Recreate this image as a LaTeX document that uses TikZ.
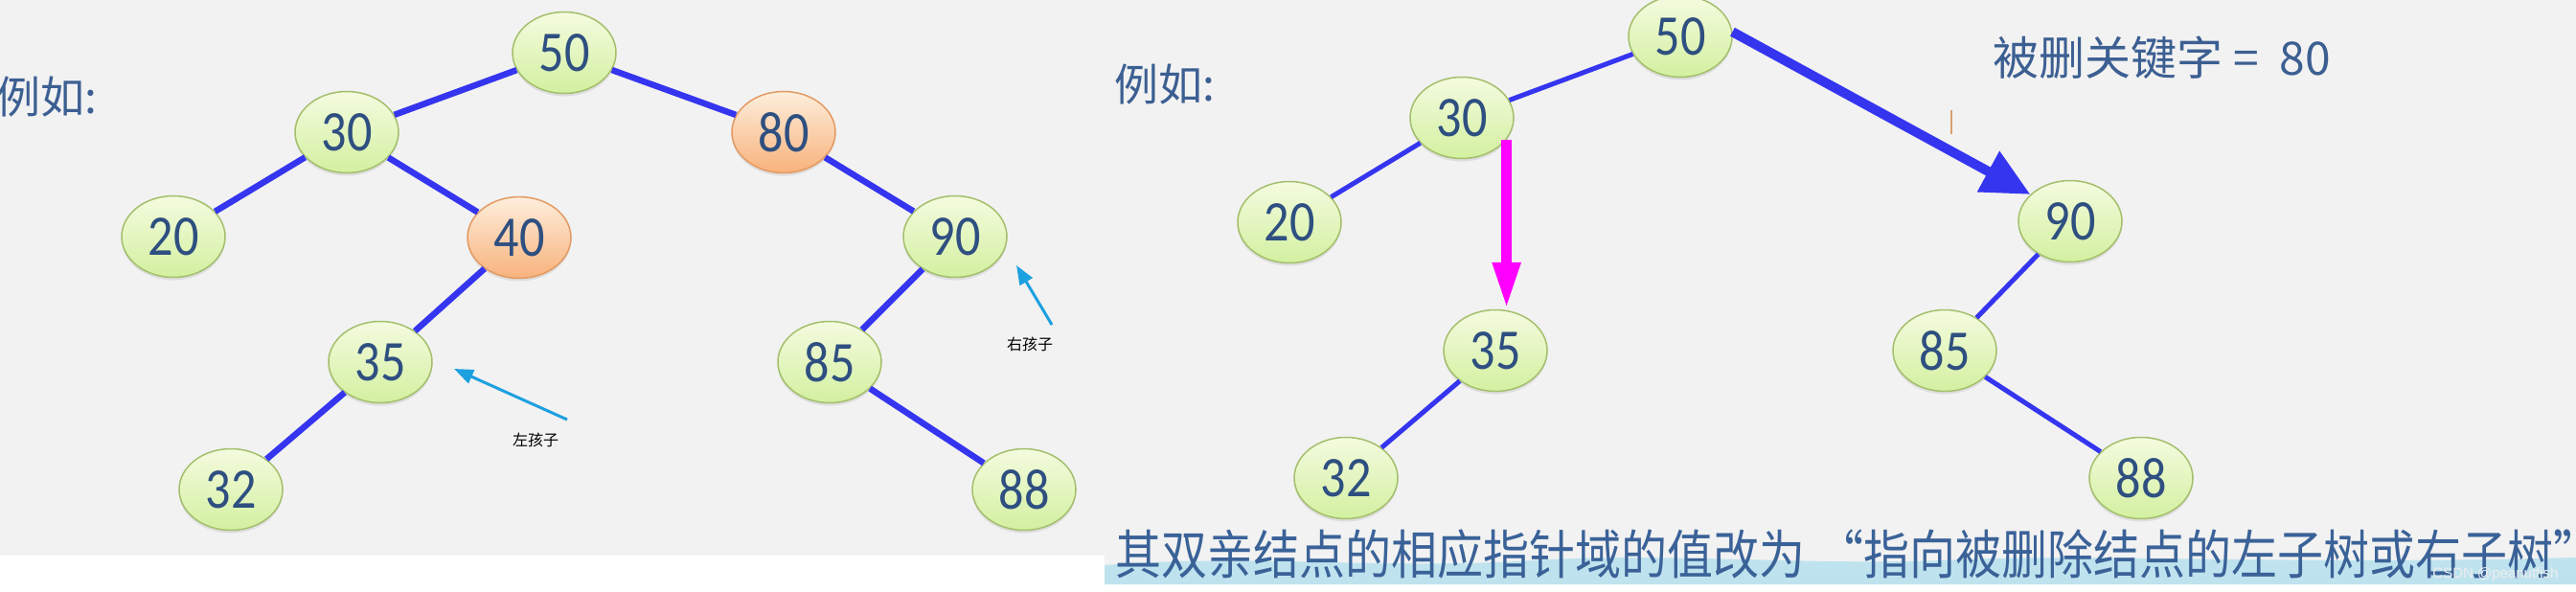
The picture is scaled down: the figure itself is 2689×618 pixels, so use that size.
\documentclass[tikz,border=0pt]{standalone}
\usepackage{fontspec}
\usepackage{graphicx}
\usetikzlibrary{shapes.geometric,arrows.meta,shadows,calc}
\newfontfamily\cjk{Noto Sans CJK SC}
\newfontfamily\numfont{Carlito}
\newfontfamily\wmfont{Liberation Sans}
\definecolor{bg}{HTML}{F2F2F2}
\definecolor{edgeblue}{HTML}{3535F0}
\definecolor{numblue}{HTML}{2E4F80}
\definecolor{txtblue}{HTML}{3C5F92}
\definecolor{gtop}{HTML}{F4FBDF}
\definecolor{gbot}{HTML}{D3F0A0}
\definecolor{gborder}{HTML}{A4BF6C}
\definecolor{otop}{HTML}{FDEEDC}
\definecolor{obot}{HTML}{F8B27C}
\definecolor{oborder}{HTML}{E39A62}
\definecolor{cyanarrow}{HTML}{1DA0E0}
\definecolor{stripblue}{HTML}{BFE3EE}
\definecolor{magarrow}{HTML}{FF00FF}
\definecolor{tickorange}{HTML}{D9A070}
\definecolor{notecolor}{HTML}{3A6298}
\newcommand\dig[1]{\scalebox{0.87}[1]{#1}}
\begin{document}
\begin{tikzpicture}[x=1pt,y=-1pt,
  keynode/.style={ellipse, minimum width=108pt, minimum height=85pt, inner sep=0pt,
    draw=gborder, line width=1.5pt, top color=gtop, bottom color=gbot,
    drop shadow={shadow xshift=0pt, shadow yshift=-3pt, opacity=0.18},
    font=\numfont\fontsize{60}{60}\selectfont, text=numblue},
  delnode/.style={keynode, draw=oborder, top color=otop, bottom color=obot},
  ledge/.style={draw=edgeblue, line width=6.5pt},
  redge/.style={draw=edgeblue, line width=5pt},
  bigarrow/.style={draw=edgeblue, fill=edgeblue, line width=10pt, -{Triangle[length=50pt,width=46pt]}},
  magentaarrow/.style={draw=magarrow, fill=magarrow, line width=11pt, -{Triangle[length=49pt,width=27pt]}},
  hintarrow/.style={draw=cyanarrow, fill=cyanarrow, line width=3pt, -{Triangle[length=20pt,width=15pt]}},
  hinttext/.style={font=\cjk\fontsize{16}{16}\selectfont, text=black, inner sep=0pt},
  bigtext/.style={font=\cjk\fontsize{46}{46}\selectfont, text=txtblue, inner sep=0pt},
]
\useasboundingbox (0,0) rectangle (2689,618);
% backgrounds
\fill[white] (0,0) rectangle (2689,618);
\fill[bg] (0,0) rectangle (1153,580);
\fill[bg] (1153,0) rectangle (2689,610);
\fill[stripblue] (1153,590) .. controls (1300,578) and (1450,595) .. (1600,585)
  .. controls (1750,576) and (1900,592) .. (2050,584)
  .. controls (2200,578) and (2400,590) .. (2689,582) -- (2689,610) -- (1153,610) -- cycle;

% ---------- left panel ----------
\node[bigtext, anchor=west] (lex) at (-4,101) {例如:};
\node[keynode] (l50) at (589,55) {\dig{50}};
\node[keynode] (l30) at (362,138) {\dig{30}};
\node[delnode] (l80) at (818,138) {\dig{80}};
\node[keynode] (l20) at (181,247) {\dig{20}};
\node[delnode] (l40) at (542,248) {\dig{40}};
\node[keynode] (l90) at (997,247) {\dig{90}};
\node[keynode] (l35) at (397,378) {\dig{35}};
\node[keynode] (l85) at (866,378) {\dig{85}};
\node[keynode] (l32) at (241,511) {\dig{32}};
\node[keynode] (l88) at (1069,511) {\dig{88}};
\draw[ledge] (l50) -- (l30);
\draw[ledge] (l50) -- (l80);
\draw[ledge] (l30) -- (l20);
\draw[ledge] (l30) -- (l40);
\draw[ledge] (l80) -- (l90);
\draw[ledge] (l40) -- (l35);
\draw[ledge] (l35) -- (l32);
\draw[ledge] (l90) -- (l85);
\draw[ledge] (l85) -- (l88);
\node[hinttext] (lchild) at (559,459) {左孩子};
\node[hinttext] (rchild) at (1075,359) {右孩子};
\coordinate (lctail) at (592,438);
\coordinate (lctip) at (474,385);
\coordinate (rctail) at (1098,339);
\coordinate (rctip) at (1061,277);
\draw[hintarrow] (lctail) -- (lctip);
\draw[hintarrow] (rctail) -- (rctip);

% ---------- right panel ----------
\node[bigtext, anchor=west] (rex) at (1163,88) {例如:};
\node[bigtext, font=\cjk\fontsize{48}{48}\selectfont] (key) at (2257,60) {被删关键字 = \ 80};
\node[keynode] (r50) at (1754,38) {\dig{50}};
\node[keynode] (r30) at (1526,123) {\dig{30}};
\node[keynode] (r20) at (1346,232) {\dig{20}};
\node[keynode] (r90) at (2161,231) {\dig{90}};
\node[keynode] (r35) at (1561,366) {\dig{35}};
\node[keynode] (r85) at (2030,366) {\dig{85}};
\node[keynode] (r32) at (1405,499) {\dig{32}};
\node[keynode] (r88) at (2235,499) {\dig{88}};
\draw[redge] (r50) -- (r30);
\draw[redge] (r30) -- (r20);
\draw[redge] (r35) -- (r32);
\draw[redge] (r90) -- (r85);
\draw[redge] (r85) -- (r88);
\draw[bigarrow] (r50.5) -- (r90.146);
\draw[magentaarrow] (r30.-26) -- (r30.-26 |- r35.north);
\draw[tickorange, line width=1.5pt] (2037,115) -- (2037,140);
\node[bigtext, anchor=west, font=\cjk\fontsize{48}{48}\selectfont, text=notecolor] (note) at (1164,578)
  {\scalebox{1}[1.15]{其双亲结点的相应指针域的值改为\hspace{13pt}“指向被删除结点的左子树或右子树\makebox[23pt][l]{”}}};
\node[font=\wmfont\fontsize{15}{15}\selectfont, text={rgb,255:red,238;green,238;blue,238}, inner sep=0pt] (wm) at (2605,600) {CSDN @peanutfish};
\end{tikzpicture}
\end{document}
